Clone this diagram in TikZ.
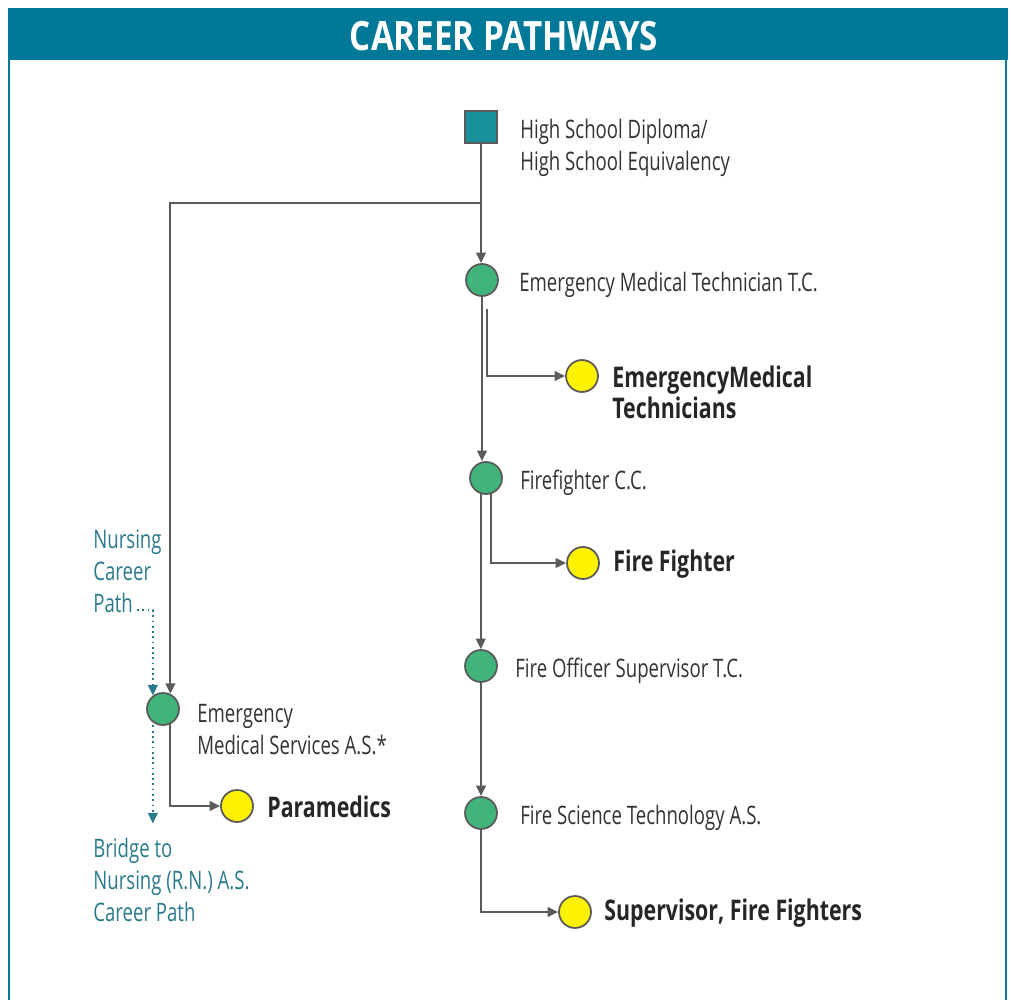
\documentclass[tikz,border=0pt]{standalone}
\usepackage{fontspec}
\setmainfont{Open Sans}[FakeStretch=0.73]
\newfontfamily\titlefont{Open Sans}[FakeStretch=0.82]
\newfontfamily\jobfont{Open Sans}[FakeStretch=0.75]
\usetikzlibrary{positioning, arrows.meta}

\definecolor{headteal}{HTML}{007898}
\definecolor{boxteal}{HTML}{1A929C}
\definecolor{linegray}{HTML}{5A5A5A}
\definecolor{stepgreen}{HTML}{40B47A}
\definecolor{jobyellow}{HTML}{FFF200}
\definecolor{nurseteal}{HTML}{2A7A8C}

\begin{document}
\begin{tikzpicture}[x=0.02cm, y=-0.02cm, font=\fontsize{14.5}{18.2}\selectfont]
    \tikzstyle{start} = [rectangle, minimum size=0.64cm, draw=linegray, line width=1pt, fill=boxteal, inner sep=0pt]
    \tikzstyle{cred} = [circle, minimum size=0.64cm, draw=linegray, line width=1pt, fill=stepgreen, inner sep=0pt]
    \tikzstyle{job} = [circle, minimum size=0.64cm, draw=linegray, line width=1pt, fill=jobyellow, inner sep=0pt]
    \tikzstyle{ann} = [draw=none, fill=none, anchor=west, align=left, text=black!80, inner sep=0pt]
    \tikzstyle{jobann} = [ann, font=\jobfont\fontsize{16.2}{17.6}\selectfont\bfseries, text=black!85]
    \tikzstyle{nurse} = [ann, anchor=north west, text=nurseteal]
    \tikzstyle{arr} = [draw=linegray, line width=1.1pt, -{Triangle[length=6pt, width=5.5pt]}]
    \tikzstyle{dotarr} = [draw=nurseteal, line width=1pt, dotted, -{Triangle[length=6pt, width=5.5pt]}]
    \useasboundingbox (0,0) rectangle (1011,1000);

    % header and frame
    \fill[headteal] (8,8) rectangle (1008,60);
    \node[text=white, font=\titlefont\fontsize{23}{26}\selectfont\bfseries] (title) at (504,36) {CAREER PATHWAYS};
    \draw[headteal, line width=1.2pt] (9,60) -- (9,1000);
    \draw[headteal, line width=1.2pt] (1006,60) -- (1006,1000);

    % steps
    \node[start] (hs) at (481,127) {};
    \node[ann] (hslbl) at (520,148) {High School Diploma/\\High School Equivalency};
    \node[cred] (emt) at (482,280) {};
    \node[ann] (emtlbl) at (519,285) {Emergency Medical Technician T.C.};
    \node[job] (emtjob) at (582,376) {};
    \node[jobann] (emtjoblbl) at (612,392) {EmergencyMedical\\Technicians};
    \node[cred] (ff) at (486,478) {};
    \node[ann] (fflbl) at (520,483) {Firefighter C.C.};
    \node[job] (ffjob) at (583,563) {};
    \node[jobann] (ffjoblbl) at (613,564) {Fire Fighter};
    \node[cred] (fo) at (481,666) {};
    \node[ann] (folbl) at (515,671) {Fire Officer Supervisor T.C.};
    \node[cred] (fs) at (481,813) {};
    \node[ann] (fslbl) at (520,818) {Fire Science Technology A.S.};
    \node[job] (fsjob) at (575,912) {};
    \node[jobann] (fsjoblbl) at (604,913) {Supervisor, Fire Fighters};
    \node[cred] (ems) at (163,709) {};
    \node[ann] (emslbl) at (197,730) {Emergency\\Medical Services A.S.*};
    \node[job] (emsjob) at (237,806) {};
    \node[jobann] (emsjoblbl) at (267,807) {Paramedics};

    % nursing notes
    \node[nurse] (nursing) at (93,529) {Nursing\\Career\\Path};
    \node[nurse] (bridge) at (93,838) {Bridge to\\Nursing (R.N.) A.S.\\Career Path};
    \coordinate (split) at (481,203);
    \coordinate (ndot) at (137,610);

    % connectors
    \draw[arr] (hs.south) -- (hs.south |- emt.north);
    \draw[arr] (split) -| (ems.64);
    \draw[arr] ([xshift=0.1cm, yshift=-0.24cm]emt.south) |- (emtjob.west);
    \draw[arr] (emt.south) -- (emt.south |- ff.north);
    \draw[arr] (ff.-72) |- (ffjob.west);
    \draw[arr] (ff.-108) -- (ff.-108 |- fo.north);
    \draw[arr] (fo.south) -- (fs.north);
    \draw[arr] (fs.south) |- (fsjob.west);
    \draw[arr] (ems.-64) |- (emsjob.west);
    \draw[dotarr] (ndot) -| (ems.127);
    \draw[dotarr] ([yshift=-0.06cm]ems.-127) -- ++(0,98);
\end{tikzpicture}
\end{document}
